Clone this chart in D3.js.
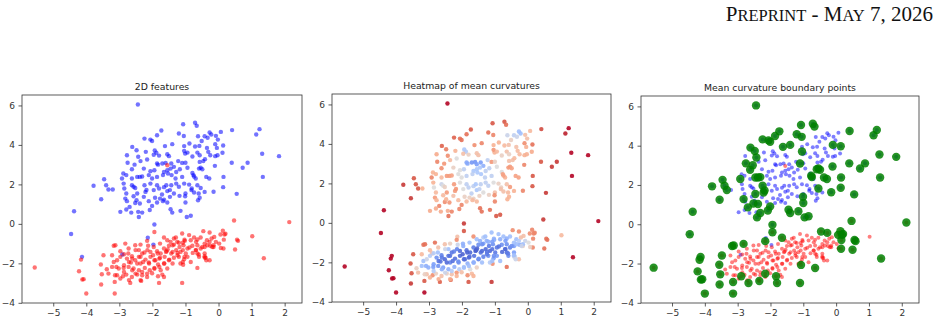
<!DOCTYPE html>
<html>
<head>
<meta charset="utf-8">
<script src="https://cdn.jsdelivr.net/npm/d3@7"></script>
<style>
  body { margin: 0; background: #fff; }
  svg { display: block; }
  .ejes text { font-family: "DejaVu Sans", sans-serif; font-size: 9px; fill: #333; }
  .ejes line { stroke: #333; stroke-width: 0.8; }
  .titulo { font-family: "DejaVu Sans", sans-serif; font-size: 9.3px; fill: #222; }
  .cabecera { font-family: "Liberation Serif", "DejaVu Serif", serif; fill: #111; }
</style>
</head>
<body>
<div id="graf"></div>
<script>
// puntos [x, y, curvatura media normalizada 0..1]
const azul = [
  [-2.44,6.05,1.0],[-0.71,5.12,0.9],[-0.66,4.97,0.85],[-1.07,5.05,0.9],[-1.73,4.73,0.9],
  [0.41,4.75,0.92],[1.24,4.8,1.0],[1.14,4.53,0.98],[0.07,4.66,0.62],[-0.27,4.63,0.35],
  [-0.22,4.53,0.35],[-0.42,4.44,0.42],[-1.2,4.58,0.85],[-1.86,4.49,0.85],[-0.62,4.44,0.45],
  [-1.05,4.45,0.8],[-2.24,4.32,0.88],[-2.01,4.2,0.85],[-2.06,4.27,0.85],[-0.08,4.46,0.6],
  [-0.02,4.27,0.6],[-0.33,4.36,0.45],[-0.51,4.2,0.55],[-1.62,3.94,0.78],[-1.4,4.04,0.8],
  [-1.04,3.94,0.65],[-0.88,4.07,0.65],[-0.71,3.92,0.62],[-0.58,3.95,0.6],[-0.35,3.85,0.6],
  [-0.1,4.04,0.78],[-0.05,3.85,0.66],[0.14,3.97,0.85],[-2.61,3.9,0.88],[-2.48,3.73,0.82],
  [-1.93,3.72,0.38],[-1.88,3.6,0.4],[-1.96,3.5,0.6],[-2.2,3.65,0.65],[-1.55,3.53,0.6],
  [-1.5,3.43,0.6],[-1.8,3.46,0.55],[-1.01,3.56,0.65],[-1.04,3.7,0.76],[-0.94,3.61,0.62],
  [-0.79,3.41,0.55],[-0.64,3.61,0.6],[-0.57,3.48,0.55],[-0.31,3.65,0.62],[-0.25,3.48,0.62],
  [0.12,3.6,0.68],[-0.1,3.43,0.65],[-0.03,3.48,0.66],[1.32,3.55,1.0],[1.83,3.43,1.0],
  [-2.77,3.48,0.68],[-2.43,3.4,0.78],[-2.36,3.18,0.62],[-2.16,3.26,0.5],[-1.86,3.06,0.28],
  [-1.83,3.0,0.28],[-1.7,3.06,0.22],[-1.6,3.09,0.22],[-1.43,3.06,0.25],[-1.35,2.89,0.3],
  [-1.22,3.18,0.42],[-1.1,3.09,0.76],[-1.0,3.1,0.55],[-0.57,3.14,0.6],[-0.46,3.18,0.6],
  [-0.41,3.28,0.62],[0.4,3.1,0.9],[0.88,3.1,0.95],[0.73,2.84,0.95],[-2.54,3.0,0.76],
  [-2.75,3.1,0.8],[-2.62,2.77,0.78],[-2.26,2.8,0.55],[-2.06,2.67,0.5],[-1.94,2.72,0.42],
  [-1.65,2.63,0.38],[-1.55,2.72,0.38],[-1.45,2.8,0.38],[-1.28,2.63,0.42],[-1.17,2.77,0.42],
  [-0.94,2.84,0.5],[-0.79,2.58,0.5],[-0.59,2.8,0.75],[-0.54,2.84,0.75],[-0.11,2.94,0.8],
  [-0.49,2.77,0.72],[-2.88,2.55,0.65],[-2.46,2.38,0.75],[-2.38,2.38,0.75],[-2.92,2.3,0.8],
  [-2.79,2.47,0.65],[-2.62,2.3,0.62],[-2.11,2.47,0.5],[-2.01,2.3,0.5],[-1.86,2.38,0.42],
  [-1.68,2.47,0.42],[-1.53,2.55,0.38],[-1.42,2.47,0.38],[-1.3,2.3,0.42],[-1.1,2.38,0.42],
  [-0.76,2.47,0.72],[-0.69,2.3,0.65],[-0.37,2.38,0.72],[-0.28,2.3,0.72],[0.15,2.38,0.9],
  [-3.46,2.26,0.9],[-3.78,1.93,0.95],[-3.4,1.96,0.9],[-3.33,1.74,0.9],[-3.2,1.74,0.65],
  [-2.87,2.04,0.65],[-2.85,1.79,0.5],[-2.62,1.96,0.45],[-2.57,1.88,0.5],[-2.52,1.82,0.55],
  [-2.24,1.96,0.75],[-2.06,2.04,0.5],[-1.86,1.96,0.42],[-1.8,1.79,0.42],[-1.65,1.86,0.42],
  [-1.58,1.96,0.38],[-1.43,1.96,0.42],[-1.28,2.04,0.42],[-1.2,1.88,0.42],[-1.04,2.04,0.5],
  [-0.89,1.99,0.55],[-0.81,1.79,0.55],[-0.64,1.96,0.6],[-0.54,1.82,0.75],[0.14,1.86,0.9],
  [-2.79,1.54,0.62],[-2.46,1.54,0.75],[-2.21,1.62,0.75],[-1.96,1.71,0.5],[-1.71,1.49,0.42],
  [-1.55,1.66,0.38],[-1.47,1.71,0.42],[-1.35,1.54,0.5],[-1.18,1.42,0.55],[-1.0,1.54,0.6],
  [-0.82,1.71,0.6],[-0.74,1.59,0.6],[-0.6,1.54,0.62],[-0.42,1.62,0.65],[0.55,1.52,0.95],
  [-3.55,1.25,0.95],[-2.82,1.28,0.75],[-2.57,1.4,0.62],[-2.26,1.37,0.6],[-1.92,1.32,0.55],
  [-1.77,1.28,0.55],[-1.65,1.23,0.55],[-1.47,1.37,0.55],[-0.62,1.2,0.65],[-0.57,1.32,0.65],
  [-2.77,1.15,0.65],[-2.52,1.06,0.78],[-2.48,1.2,0.65],[-2.38,1.03,0.76],[-2.11,1.15,0.62],
  [-1.86,1.08,0.62],[-1.68,1.15,0.62],[-1.55,1.08,0.62],[-1.0,1.08,0.8],[-2.01,0.91,0.8],
  [-2.69,0.86,0.8],[-2.79,0.73,0.68],[-1.45,0.74,0.85],[-1.15,0.66,0.85],[-2.97,0.61,0.68],
  [-2.64,0.57,0.68],[-2.43,0.61,0.68],[-2.31,0.57,0.8],[-2.41,0.35,0.85],[-1.4,0.57,0.85],
  [-0.96,0.35,0.9],[-0.84,0.41,0.9],[-4.37,0.64,1.0],[-4.46,-0.51,1.0],[-1.94,-0.03,0.95],
  [-4.13,-1.67,1.0],[-2.91,-1.55,0.6],[-2.14,-0.7,0.6],[-1.97,-1.05,0.3],[-2.08,0.7,0.8],
  [-0.15,1.63,0.8],[-1.01,1.4,0.78],[-2.18,1.72,0.76],[1.34,2.38,1.0],[-0.74,2.4,0.72],
  [-2.31,2.4,0.72]
]

const rojo = [
  [-1.55,2.97,0.25],
  [-5.56,-2.21,1.0],[-4.16,-1.81,1.0],[-4.22,-2.4,1.0],[-4.12,-2.82,1.0],[-4.08,-2.8,1.0],
  [-4.0,-3.53,1.0],[-3.56,-2.06,0.9],[-3.53,-2.55,0.9],[-3.55,-3.07,0.95],[-3.48,-1.59,0.9],
  [-3.14,-3.53,1.0],[-3.14,-2.94,0.9],[-3.17,-1.11,0.85],[-3.12,-1.08,0.85],[-2.82,-1.0,0.85],
  [-2.67,-2.99,0.88],[-2.34,-2.89,0.85],[-1.8,-2.99,0.9],[-1.1,-2.99,0.95],[-0.64,-2.23,0.85],
  [-1.94,-0.41,0.9],[0.47,0.17,0.95],[2.14,0.09,1.0],[1.02,-0.63,0.62],[1.37,-1.74,1.0],
  [0.56,-0.8,0.85],[0.59,-0.86,0.85],[0.5,-1.3,0.85],[0.15,-1.25,0.8],[0.16,-0.8,0.8],
  [0.18,-0.54,0.8],[0.21,-0.5,0.8],[0.13,-0.35,0.8],[0.06,-0.54,0.78],[-0.27,-0.44,0.78],
  [-0.46,-0.37,0.78],[-0.15,-1.17,0.55],[-0.27,-1.84,0.6],[-0.42,-1.71,0.45],
  [-1.07,-2.07,0.78],[-1.83,-2.65,0.78],[-2.16,-2.52,0.76],[-2.89,-2.65,0.78],
  [-1.65,-0.69,0.78],[-1.35,-0.74,0.4],[-1.1,-0.49,0.35],[-0.89,-0.57,0.35],[-0.74,-0.69,0.35],
  [-0.54,-0.69,0.35],[-0.21,-0.74,0.6],[-0.13,-0.66,0.6],[-0.08,-0.91,0.45],[0.02,-1.0,0.5],
  [0.07,-1.22,0.55],[-2.16,-0.86,0.78],[-1.55,-0.83,0.35],[-1.45,-0.91,0.3],[-1.25,-0.91,0.3],
  [-1.02,-0.86,0.3],[-0.84,-0.83,0.3],[-0.64,-0.79,0.3],[-0.35,-0.83,0.35],
  [-2.52,-1.08,0.6],[-2.36,-1.05,0.55],[-2.13,-1.11,0.45],[-1.96,-1.17,0.3],[-1.77,-1.0,0.35],
  [-1.65,-1.25,0.12],[-1.5,-1.11,0.2],[-1.35,-1.05,0.25],[-1.2,-0.96,0.3],[-1.06,-1.08,0.2],
  [-0.94,-1.25,0.12],[-0.79,-1.11,0.2],[-0.64,-1.08,0.2],[-0.54,-1.25,0.15],[-0.42,-1.17,0.25],
  [-0.25,-1.11,0.3],[-0.15,-1.08,0.35],[-2.72,-1.25,0.6],[-2.97,-1.39,0.62],[-2.41,-1.33,0.35],
  [-2.24,-1.45,0.15],[-2.06,-1.42,0.08],[-1.86,-1.39,0.1],[-1.75,-1.5,0.08],[-1.57,-1.39,0.06],
  [-1.43,-1.5,0.1],[-1.28,-1.33,0.08],[-1.15,-1.42,0.08],[-0.99,-1.5,0.12],[-0.69,-1.33,0.1],
  [-0.64,-1.5,0.1],[-0.42,-1.5,0.25],[-0.59,-1.67,0.2],
  [-3.22,-1.59,0.62],[-2.97,-1.67,0.4],[-2.77,-1.76,0.2],[-2.62,-1.64,0.15],[-2.52,-1.84,0.08],
  [-2.36,-1.67,0.1],[-2.21,-1.81,0.1],[-2.06,-1.67,0.08],[-1.98,-1.59,0.06],[-1.91,-1.84,0.1],
  [-1.77,-1.72,0.08],[-1.63,-1.67,0.1],[-1.5,-1.84,0.15],[-1.35,-1.72,0.15],[-1.2,-1.67,0.2],
  [-1.04,-1.79,0.25],[-0.94,-1.67,0.25],[-0.84,-1.93,0.35],[-0.39,-1.72,0.45],[-3.17,-1.93,0.35],
  [-2.65,-1.96,0.1],[-2.36,-2.01,0.15],[-2.11,-1.96,0.2],[-1.83,-2.06,0.3],[-1.65,-2.01,0.3],
  [-1.15,-2.01,0.4],
  [-3.38,-2.3,0.55],[-3.22,-2.18,0.35],[-3.09,-2.18,0.3],[-3.02,-2.26,0.3],[-2.87,-2.23,0.25],
  [-2.72,-2.18,0.2],[-2.57,-2.26,0.25],[-2.41,-2.35,0.3],[-2.23,-2.23,0.3],[-2.08,-2.35,0.4],
  [-1.94,-2.23,0.4],[-1.75,-2.35,0.5],[-1.55,-2.26,0.55],[-3.33,-2.52,0.6],[-3.07,-2.6,0.6],
  [-2.79,-2.57,0.55],[-2.62,-2.69,0.6],[-2.46,-2.57,0.55],[-2.31,-2.6,0.6],[-2.16,-2.69,0.65],
  [-2.01,-2.5,0.6],[-1.7,-2.57,0.62],[-1.65,-2.69,0.65],[-2.97,-2.77,0.65],
  [-1.29,-0.69,0.35],[-1.03,-0.8,0.3],[-0.68,-0.91,0.25],[-0.42,-1.0,0.35],[-0.27,-0.91,0.4],
  [-0.19,-1.17,0.45],[-0.34,-1.08,0.35],[-0.49,-1.17,0.2],[-0.68,-1.33,0.08],[-0.78,-1.47,0.08],
  [-0.6,-1.55,0.12],[-0.88,-1.2,0.1],[-1.08,-0.96,0.25],[-1.18,-1.17,0.12],[-1.39,-1.08,0.2],
  [-1.54,-1.3,0.06],[-1.59,-1.42,0.05],[-1.39,-1.42,0.08],[-1.24,-1.47,0.1],[-1.08,-1.33,0.1],
  [-1.49,-1.81,0.2],[-1.64,-2.01,0.3],[-1.39,-2.01,0.35],[-1.24,-1.59,0.12],[-1.03,-1.67,0.2],
  [-0.42,-1.64,0.35],[-0.37,-1.84,0.45],[-1.08,-1.93,0.35],
  [-3.07,-1.84,0.45],[-2.86,-2.1,0.25],[-2.71,-1.93,0.1],[-2.61,-1.76,0.12],[-2.46,-2.01,0.08],
  [-2.41,-1.67,0.1],[-2.31,-1.5,0.12],[-2.15,-1.33,0.15],[-2.1,-2.01,0.2],[-1.94,-1.84,0.08],
  [-1.84,-1.5,0.06],[-1.79,-1.76,0.08],[-2.28,-1.93,0.1],[-2.61,-2.35,0.3],[-2.51,-2.52,0.45],
  [-2.31,-2.44,0.4],[-2.36,-2.85,0.68],[-2.86,-2.44,0.4],[-3.13,-2.6,0.55],[-2.71,-2.85,0.68],
  [-1.94,-2.27,0.35],[-1.79,-2.18,0.35],[-2.73,-1.5,0.35],[-2.51,-1.33,0.45],[-2.86,-1.54,0.4]
]

const titulos = ["2D features", "Heatmap of mean curvatures", "Mean curvature boundary points"]
const xTicks = [-5, -4, -3, -2, -1, 0, 1, 2]
const yTicks = [-4, -2, 0, 2, 4, 6]
const umbral = 0.7 // curvatura a partir de la cual un punto es de frontera
// encabezado en versalitas: [texto, es mayúscula grande]
const cabecera = [["P", true], ["REPRINT", false], [" - ", true], ["M", true], ["AY", false], [" 7, 2026", true]]

// coolwarm de matplotlib, aproximado por tramos
const coolwarm = d3.scaleLinear()
  .domain([0, 0.125, 0.25, 0.375, 0.5, 0.625, 0.75, 0.875, 1])
  .range(["#3b4cc0", "#5d7ce6", "#7b9ff9", "#aac7fd", "#dddcdc", "#f7b89c", "#f49a7b", "#e0654f", "#b40426"])
  .interpolate(d3.interpolateLab)

const datos = azul.map((d) => ({ x: d[0], y: d[1], k: d[2], c: "blue" }))
  .concat(rojo.map((d) => ({ x: d[0], y: d[1], k: d[2], c: "red" })))

const cajas = [
  { left: 22, top: 95, ancho: 280, alto: 208 },
  { left: 332, top: 94, ancho: 279, alto: 208 },
  { left: 641, top: 96, ancho: 278, alto: 207 }
]

const svg = d3.select("#graf")
  .append("svg")
  .attr("width", 939)
  .attr("height", 321)

svg.append("text")
  .attr("class", "cabecera")
  .attr("x", 933)
  .attr("y", 21)
  .attr("text-anchor", "end")
  .selectAll("tspan")
  .data(cabecera)
  .enter()
  .append("tspan")
  .attr("font-size", (d) => (d[1] ? 21 : 16.5))
  .text((d) => d[0])

// limites con 5% de margen, como matplotlib
const ex = d3.extent(datos, (d) => d.x)
const ey = d3.extent(datos, (d) => d.y)
const mx = (ex[1] - ex[0]) * 0.05
const my = (ey[1] - ey[0]) * 0.05

cajas.forEach((caja, i) => {
  const g = svg.append("g").attr("transform", `translate(${caja.left}, ${caja.top})`)

  const x = d3.scaleLinear().domain([ex[0] - mx, ex[1] + mx]).range([0, caja.ancho])
  const y = d3.scaleLinear().domain([ey[0] - my, ey[1] + my]).range([caja.alto, 0])

  g.append("clipPath")
    .attr("id", "clip" + i)
    .append("rect")
    .attr("width", caja.ancho)
    .attr("height", caja.alto)

  const puntos = g.append("g").attr("clip-path", `url(#clip${i})`)

  if (i === 0) {
    puntos.selectAll("circle")
      .data(datos)
      .enter()
      .append("circle")
      .attr("cx", (d) => x(d.x))
      .attr("cy", (d) => y(d.y))
      .attr("r", 2.2)
      .attr("fill", (d) => d.c)
      .attr("fill-opacity", 0.55)
  } else if (i === 1) {
    puntos.selectAll("circle")
      .data(datos)
      .enter()
      .append("circle")
      .attr("cx", (d) => x(d.x))
      .attr("cy", (d) => y(d.y))
      .attr("r", 2.2)
      .attr("fill", (d) => coolwarm(d.k))
      .attr("fill-opacity", 0.9)
  } else {
    puntos.selectAll("circle.chico")
      .data(datos)
      .enter()
      .append("circle")
      .attr("class", "chico")
      .attr("cx", (d) => x(d.x))
      .attr("cy", (d) => y(d.y))
      .attr("r", 2)
      .attr("fill", (d) => d.c)
      .attr("fill-opacity", 0.5)
    puntos.selectAll("circle.borde")
      .data(datos.filter((d) => d.k >= umbral))
      .enter()
      .append("circle")
      .attr("class", "borde")
      .attr("cx", (d) => x(d.x))
      .attr("cy", (d) => y(d.y))
      .attr("r", 4.2)
      .attr("fill", "green")
      .attr("fill-opacity", 0.85)
  }

  g.append("g")
    .attr("class", "ejes")
    .attr("transform", `translate(0, ${caja.alto})`)
    .call(d3.axisBottom(x).tickValues(xTicks).tickSize(3.5).tickPadding(3.5))
    .call((s) => s.select(".domain").remove())

  g.append("g")
    .attr("class", "ejes")
    .call(d3.axisLeft(y).tickValues(yTicks).tickSize(3.5).tickPadding(3.5))
    .call((s) => s.select(".domain").remove())

  g.append("rect")
    .attr("width", caja.ancho)
    .attr("height", caja.alto)
    .attr("fill", "none")
    .attr("stroke", "#333")
    .attr("stroke-width", 0.8)

  g.append("text")
    .attr("class", "titulo")
    .attr("x", caja.ancho / 2)
    .attr("y", -5)
    .attr("text-anchor", "middle")
    .text(titulos[i])
})
</script>
</body>
</html>
